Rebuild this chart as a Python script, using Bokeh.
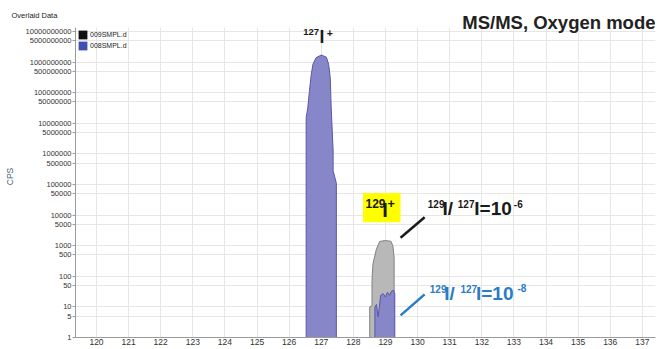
from bokeh.plotting import figure
from bokeh.models import FixedTicker, Label, BoxAnnotation, Legend, LegendItem, ColumnDataSource
from bokeh.embed import file_html
from bokeh.resources import INLINE

# ---------------- data ----------------
x_ticks = [120, 121, 122, 123, 124, 125, 126, 127, 128, 129, 130, 131, 132, 133, 134, 135, 136, 137]
y_ticks = [1, 5, 10, 50, 100, 500, 1000, 5000, 10000, 50000, 100000, 500000,
           1000000, 5000000, 10000000, 50000000, 100000000, 500000000,
           1000000000, 5000000000, 10000000000]
y_tick_labels = ["1", "5", "10", "50", "100", "500", "1000", "5000", "10000", "50000",
                 "100000", "500000", "1000000", "5000000", "10000000", "50000000",
                 "100000000", "500000000", "1000000000", "5000000000", "10000000000"]

# 008SMPL.d (blue) around m/z 127
mz_008_127 = [126.53, 126.53, 126.58, 126.63, 126.69, 126.74, 126.84, 127.0, 127.16, 127.23,
              127.28, 127.31, 127.37, 127.37, 127.47, 127.47]
cps_008_127 = [1, 1.5e7, 3.2e7, 1.1e8, 4e8, 8.5e8, 1.4e9, 1.7e9, 1.45e9, 8.5e8,
               3.1e8, 3.2e7, 1.26e6, 2.8e5, 1.1e5, 1]
# 008SMPL.d (blue) around m/z 129
mz_008_129 = [128.67, 128.67, 128.72, 128.75, 128.77, 128.81, 128.85, 128.93, 129.0, 129.06,
              129.13, 129.19, 129.25, 129.29, 129.29]
cps_008_129 = [1, 10, 12, 6.8, 4.7, 10, 24, 27, 21, 30, 24, 33, 35, 27, 1]
# 009SMPL.d (gray) around m/z 129
mz_009_129 = [128.51, 128.51, 128.58, 128.58, 128.61, 128.72, 128.82, 128.98, 129.17, 129.23,
              129.27, 129.27]
cps_009_129 = [1, 10, 11, 73, 257, 790, 1370, 1470, 1400, 1000, 420, 1]

series_names = ["009SMPL.d", "008SMPL.d"]

# ---------------- figure ----------------
FRAME_L, FRAME_B = 75, 337
Y_TOP_SHOWN = 1.35e10          # top of the visible grid / axis
p = figure(width=660, height=348, output_backend="svg", toolbar_location=None,
           x_range=(119.346, 137.41), y_range=(1, 3.33e10), y_axis_type="log",
           min_border_left=FRAME_L, min_border_right=5, min_border_top=15,
           min_border_bottom=348 - FRAME_B, title="Overlaid Data")
p.outline_line_color = None
p.background_fill_color = "white"
p.border_fill_color = "white"

p.title.align = "left"
p.title.offset = -64
p.title.standoff = -9
p.title.text_font = "Liberation Sans"
p.title.text_font_size = "7.5px"
p.title.text_font_style = "normal"
p.title.text_color = "#222222"

# grids
p.xgrid.ticker = FixedTicker(ticks=x_ticks)
p.ygrid.ticker = FixedTicker(ticks=y_ticks)
p.xgrid.grid_line_color = "#e6e6e6"
p.ygrid.grid_line_color = "#e6e6e6"

# axes
p.xaxis.ticker = FixedTicker(ticks=x_ticks)
p.yaxis.ticker = FixedTicker(ticks=y_ticks)
p.yaxis.bounds = (1, Y_TOP_SHOWN)
p.yaxis.major_label_overrides = {t: l for t, l in zip(y_ticks, y_tick_labels)}
for ax in (p.xaxis[0], p.yaxis[0]):
    ax.axis_line_color = "#9a9a9a"
    ax.major_tick_line_color = "#9a9a9a"
    ax.minor_tick_line_color = None
    ax.major_tick_in = 0
    ax.major_label_text_color = "#333333"
    ax.major_label_text_font = "Liberation Sans"
p.xaxis.major_label_text_font_size = "8.5px"
p.xaxis.major_tick_out = 0
p.xaxis.major_label_standoff = 1
p.yaxis.major_tick_out = 3
p.yaxis.major_label_standoff = 1
p.yaxis.major_label_text_font_size = "7.5px"
p.yaxis.axis_label = "CPS"
p.yaxis.axis_label_text_font = "Liberation Sans"
p.yaxis.axis_label_text_font_size = "8.5px"
p.yaxis.axis_label_text_font_style = "normal"
p.yaxis.axis_label_text_color = "#4a5f85"
p.yaxis.axis_label_standoff = 8

# spectra
p.patch(mz_009_129, cps_009_129, fill_color="#b8b8b8", line_color="#808080", line_width=1)
p.patch(mz_008_127, cps_008_127, fill_color="#8686c9", line_color="#5858a6", line_width=1)
p.patch(mz_008_129, cps_008_129, fill_color="#8686c9", line_color="#5858a6", line_width=1)

# white strip hiding the grid above the plotted range (header area)
p.add_layout(BoxAnnotation(bottom=Y_TOP_SHOWN, top=3.33e10, fill_color="white", fill_alpha=1, line_alpha=0))

# legend (swatches; placeholder renderers without visible data)
nan = float("nan")
leg_src = ColumnDataSource(data=dict(l=[nan], r=[nan], t=[nan], b=[nan]))
r_009 = p.quad(left="l", right="r", top="t", bottom="b", source=leg_src, fill_color="#111111", line_color=None)
r_008 = p.quad(left="l", right="r", top="t", bottom="b", source=leg_src, fill_color="#3f4fb2", line_color=None)
legend = Legend(items=[LegendItem(label=series_names[0], renderers=[r_009]),
                       LegendItem(label=series_names[1], renderers=[r_008])],
                location=(2, FRAME_B - 29 - 22), margin=0, padding=0, spacing=0,
                glyph_width=11, glyph_height=11, label_height=10, label_standoff=2,
                label_text_font="Liberation Sans", label_text_font_size="7px",
                label_text_color="#222222", background_fill_alpha=0, border_line_alpha=0)
p.add_layout(legend)

# yellow box and pointer lines
p.add_layout(BoxAnnotation(left=128.30, right=129.47, bottom=5.8e3, top=5.28e4,
                           fill_color="#ffff00", fill_alpha=1, line_alpha=0))
p.line([129.47, 130.22], [1810, 8500], line_color="#1a1a1a", line_width=2.5)
p.line([129.47, 130.22], [5.3, 25.7], line_color="#2a7cc4", line_width=2.5)

BOLD = "Liberation Sans"
BLACK = "#1a1a1a"
BLUE = "#2a7cc4"

# annotation texts: (text, left px, baseline px, font px, colour)
texts = [
    ("127", 302.7, 35.0, 9.5, BLACK), ("I", 318.9, 42.7, 17.5, BLACK), ("+", 326.3, 36.0, 10.5, BLACK),
    ("129", 365.0, 206.7, 12, BLACK), ("I", 381.8, 216.7, 20, BLACK), ("+", 387.0, 207.5, 12.5, BLACK),
    ("129", 427.3, 207.3, 10, BLACK), ("I/", 442.0, 215.0, 19, BLACK), ("127", 457.3, 207.3, 10, BLACK),
    ("I=10", 473.8, 215.0, 19, BLACK), ("-6", 513.3, 207.0, 10, BLACK),
    ("129", 429.3, 291.7, 10, BLUE), ("I/", 443.8, 300.0, 19, BLUE), ("127", 460.0, 291.7, 10, BLUE),
    ("I=10", 475.5, 300.0, 19, BLUE), ("-8", 517.0, 291.0, 10, BLUE),
]
for t, px, base, size, col in texts:
    p.add_layout(Label(x=px - FRAME_L, y=FRAME_B - (base - 0.35 * size), x_units="screen", y_units="screen",
                       text=t, text_font=BOLD, text_font_size=f"{size}px", text_font_style="bold",
                       text_color=col, text_align="left", text_baseline="middle"))

# mode text (top right)
p.add_layout(Label(x=655 - FRAME_L, y=FRAME_B - (28 - 0.35 * 18.5), x_units="screen", y_units="screen",
                   text="MS/MS, Oxygen mode", text_font=BOLD, text_font_size="18.5px",
                   text_font_style="bold", text_color="#222222",
                   text_align="right", text_baseline="middle"))

open("out.html", "w").write(file_html(p, INLINE))
